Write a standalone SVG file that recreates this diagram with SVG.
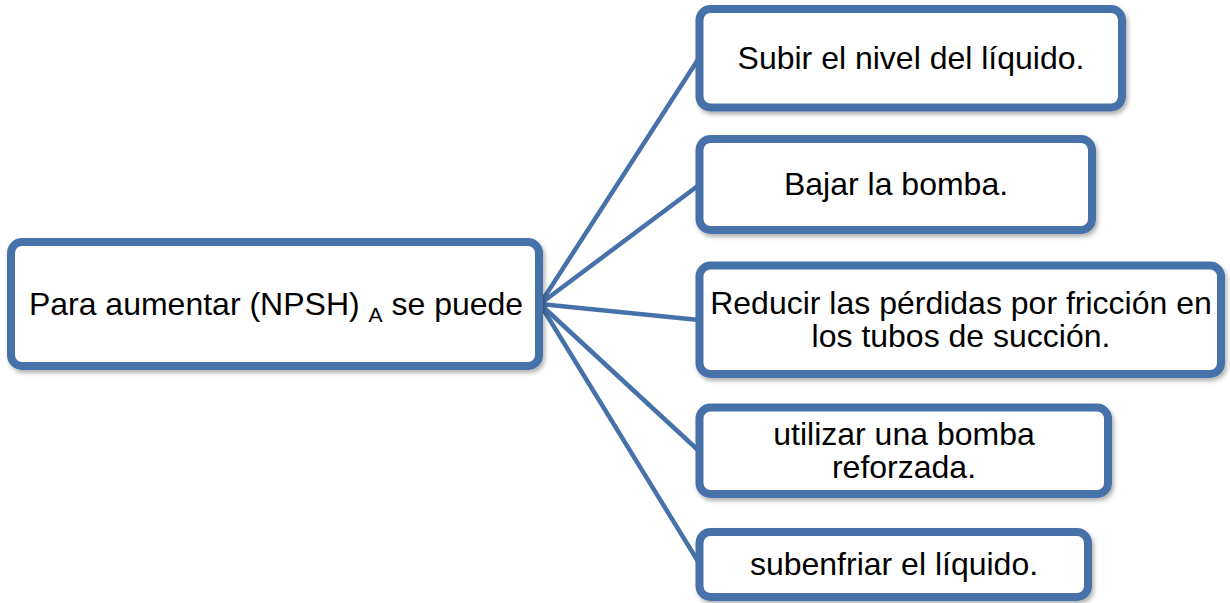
<svg xmlns="http://www.w3.org/2000/svg" width="1230" height="603" viewBox="0 0 1230 603">
  <defs>
    <filter id="sh" x="-5%" y="-10%" width="110%" height="125%">
      <feDropShadow dx="2" dy="3" stdDeviation="2" flood-color="#000" flood-opacity="0.3"/>
    </filter>
    <style>
      .box { fill: #ffffff; stroke: #4672a9; stroke-width: 8; filter: url(#sh); }
      .lbl { font-family: "Liberation Sans", Arial, sans-serif; font-size: 32px; fill: #000; text-anchor: middle; }
      .conn { stroke: #4672a9; stroke-width: 4.5; fill: none; stroke-linecap: round; }
    </style>
  </defs>
  <rect width="1230" height="603" fill="#ffffff"/>

  <g id="connectors">
    <line class="conn" x1="540" y1="304" x2="699" y2="58"/>
    <line class="conn" x1="540" y1="304" x2="699" y2="185"/>
    <line class="conn" x1="540" y1="304" x2="699" y2="320"/>
    <line class="conn" x1="540" y1="304" x2="699" y2="451"/>
    <line class="conn" x1="540" y1="304" x2="699" y2="563"/>
  </g>

  <g id="node-root">
    <rect class="box" x="11" y="242" width="528" height="124" rx="11"/>
    <text class="lbl" x="276" y="315">Para aumentar (NPSH) <tspan font-size="21" dy="7">A</tspan><tspan dy="-7"> se puede</tspan></text>
  </g>

  <g id="node-1">
    <rect class="box" x="699.5" y="9" width="422.5" height="98.5" rx="11"/>
    <text class="lbl" x="911" y="69">Subir el nivel del líquido.</text>
  </g>

  <g id="node-2">
    <rect class="box" x="699.5" y="139" width="392.5" height="91" rx="11"/>
    <text class="lbl" x="896" y="195">Bajar la bomba.</text>
  </g>

  <g id="node-3">
    <rect class="box" x="699.5" y="265.5" width="521.5" height="108.5" rx="11"/>
    <text class="lbl" x="961" y="314">Reducir las pérdidas por fricción en</text>
    <text class="lbl" x="961" y="347">los tubos de succión.</text>
  </g>

  <g id="node-4">
    <rect class="box" x="699.5" y="407.5" width="408.5" height="86.5" rx="11"/>
    <text class="lbl" x="904" y="445">utilizar una bomba</text>
    <text class="lbl" x="904" y="478">reforzada.</text>
  </g>

  <g id="node-5">
    <rect class="box" x="699.5" y="532" width="388.5" height="65" rx="11"/>
    <text class="lbl" x="894" y="575">subenfriar el líquido.</text>
  </g>
</svg>
